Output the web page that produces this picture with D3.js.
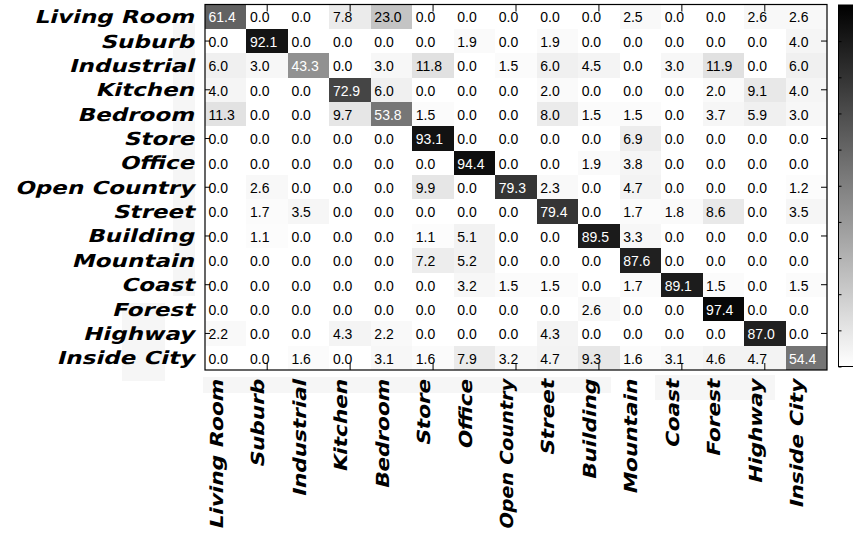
<!DOCTYPE html>
<html>
<head>
<meta charset="utf-8">
<script src="https://cdn.jsdelivr.net/npm/d3@7"></script>
<style>
  html, body { margin: 0; padding: 0; background: #fff; }
  svg { display: block; }
</style>
</head>
<body>
<svg id="chart" width="853" height="535"></svg>
<script>
// Scene categories (true class on rows, predicted class on columns)
const categories = ["Living Room", "Suburb", "Industrial", "Kitchen", "Bedroom", "Store", "Office",
  "Open Country", "Street", "Building", "Mountain", "Coast", "Forest", "Highway", "Inside City"];

// Confusion matrix rows, in percent
const livingRoom  = [61.4, 0.0, 0.0, 7.8, 23.0, 0.0, 0.0, 0.0, 0.0, 0.0, 2.5, 0.0, 0.0, 2.6, 2.6];
const suburb      = [0.0, 92.1, 0.0, 0.0, 0.0, 0.0, 1.9, 0.0, 1.9, 0.0, 0.0, 0.0, 0.0, 0.0, 4.0];
const industrial  = [6.0, 3.0, 43.3, 0.0, 3.0, 11.8, 0.0, 1.5, 6.0, 4.5, 0.0, 3.0, 11.9, 0.0, 6.0];
const kitchen     = [4.0, 0.0, 0.0, 72.9, 6.0, 0.0, 0.0, 0.0, 2.0, 0.0, 0.0, 0.0, 2.0, 9.1, 4.0];
const bedroom     = [11.3, 0.0, 0.0, 9.7, 53.8, 1.5, 0.0, 0.0, 8.0, 1.5, 1.5, 0.0, 3.7, 5.9, 3.0];
const store       = [0.0, 0.0, 0.0, 0.0, 0.0, 93.1, 0.0, 0.0, 0.0, 0.0, 6.9, 0.0, 0.0, 0.0, 0.0];
const office      = [0.0, 0.0, 0.0, 0.0, 0.0, 0.0, 94.4, 0.0, 0.0, 1.9, 3.8, 0.0, 0.0, 0.0, 0.0];
const openCountry = [0.0, 2.6, 0.0, 0.0, 0.0, 9.9, 0.0, 79.3, 2.3, 0.0, 4.7, 0.0, 0.0, 0.0, 1.2];
const street      = [0.0, 1.7, 3.5, 0.0, 0.0, 0.0, 0.0, 0.0, 79.4, 0.0, 1.7, 1.8, 8.6, 0.0, 3.5];
const building    = [0.0, 1.1, 0.0, 0.0, 0.0, 1.1, 5.1, 0.0, 0.0, 89.5, 3.3, 0.0, 0.0, 0.0, 0.0];
const mountain    = [0.0, 0.0, 0.0, 0.0, 0.0, 7.2, 5.2, 0.0, 0.0, 0.0, 87.6, 0.0, 0.0, 0.0, 0.0];
const coast       = [0.0, 0.0, 0.0, 0.0, 0.0, 0.0, 3.2, 1.5, 1.5, 0.0, 1.7, 89.1, 1.5, 0.0, 1.5];
const forest      = [0.0, 0.0, 0.0, 0.0, 0.0, 0.0, 0.0, 0.0, 0.0, 2.6, 0.0, 0.0, 97.4, 0.0, 0.0];
const highway     = [2.2, 0.0, 0.0, 4.3, 2.2, 0.0, 0.0, 0.0, 4.3, 0.0, 0.0, 0.0, 0.0, 87.0, 0.0];
const insideCity  = [0.0, 0.0, 1.6, 0.0, 3.1, 1.6, 7.9, 3.2, 4.7, 9.3, 1.6, 3.1, 4.6, 4.7, 54.4];

const matrixRows = [livingRoom, suburb, industrial, kitchen, bedroom, store, office, openCountry,
  street, building, mountain, coast, forest, highway, insideCity];

// Colour bar range and tick values
const colorDomain = [0, 100];
const colorTicks = [0, 10, 20, 30, 40, 50, 60, 70, 80, 90, 100];

const svg = d3.select("#chart");
const plot = { left: 205, right: 827, top: 4.5, bottom: 370 };

const x = d3.scaleBand().domain(categories).range([plot.left, plot.right]);
const y = d3.scaleBand().domain(categories).range([plot.top, plot.bottom]);
const shade = d3.scaleLinear().domain(colorDomain).range(["#ffffff", "#000000"]);

// light backing panels behind the label columns
const panels = [
  [173, 23, 22, 273], [122, 303, 43, 78], [203, 377, 408, 16], [655, 375, 120, 25]
];
svg.append("g").selectAll("rect").data(panels).join("rect")
  .attr("x", d => d[0]).attr("y", d => d[1]).attr("width", d => d[2]).attr("height", d => d[3])
  .attr("fill", "#f6f6f6");

// flatten into cells
const cells = [];
matrixRows.forEach((row, r) => row.forEach((v, c) => cells.push({ r: categories[r], c: categories[c], v })));

const g = svg.append("g");
g.selectAll("rect.cell").data(cells).join("rect")
  .attr("class", "cell")
  .attr("x", d => x(d.c)).attr("y", d => y(d.r))
  .attr("width", x.bandwidth()).attr("height", y.bandwidth())
  .attr("fill", d => shade(d.v))
  .attr("shape-rendering", "crispEdges");

g.selectAll("text.val").data(cells).join("text")
  .attr("class", "val")
  .attr("x", d => x(d.c) + 3.5)
  .attr("y", d => y(d.r) + y.bandwidth() / 2 + 5.8)
  .attr("font-family", "'Liberation Sans', Arial, sans-serif")
  .attr("font-size", "14px")
  .attr("fill", d => d.v > 40 ? "#ffffff" : "#000000")
  .text(d => d.v.toFixed(1));

// tick marks on every other category, drawn inward on all four sides
const tickCats = categories.filter((d, i) => i % 2 === 1);
const noLabel = () => "";
const axTop = svg.append("g").attr("transform", `translate(0,${plot.top})`)
  .call(d3.axisBottom(x).tickValues(tickCats).tickSize(7).tickSizeOuter(0).tickFormat(noLabel));
const axBottom = svg.append("g").attr("transform", `translate(0,${plot.bottom})`)
  .call(d3.axisTop(x).tickValues(tickCats).tickSize(7).tickSizeOuter(0).tickFormat(noLabel));
const axLeft = svg.append("g").attr("transform", `translate(${plot.left},0)`)
  .call(d3.axisRight(y).tickValues(tickCats).tickSize(5).tickSizeOuter(0).tickFormat(noLabel));
const axRight = svg.append("g").attr("transform", `translate(${plot.right},0)`)
  .call(d3.axisLeft(y).tickValues(tickCats).tickSize(6).tickSizeOuter(0).tickFormat(noLabel));
[axTop, axBottom, axLeft, axRight].forEach(a => {
  a.select(".domain").remove();
  a.selectAll("line").attr("stroke", "#000").attr("stroke-width", 1);
});

// frame
svg.append("rect")
  .attr("x", plot.left).attr("y", plot.top)
  .attr("width", plot.right - plot.left).attr("height", plot.bottom - plot.top)
  .attr("fill", "none").attr("stroke", "#000").attr("stroke-width", 1.2);

// category labels: bold DejaVu Sans, widened and slanted
const labelFont = "DejaVu Sans";
const slant = "skewX(-12)";

svg.append("g").selectAll("text").data(categories).join("text")
  .attr("transform", d => `translate(194,${y(d) + y.bandwidth() / 2 + 6.5}) scale(1.28,1) ${slant}`)
  .attr("text-anchor", "end")
  .attr("font-family", labelFont).attr("font-weight", "bold")
  .attr("font-size", "18px")
  .text(d => d);

// column labels hang below the matrix; long ones are squeezed to fit the space left
const colLabelTop = 380, colLabelRoom = 150;
svg.append("g").selectAll("text").data(categories).join("text")
  .attr("text-anchor", "end")
  .attr("font-family", labelFont).attr("font-weight", "bold")
  .attr("font-size", "18px")
  .text(d => d)
  .attr("transform", function (d) {
    const natural = this.getComputedTextLength();
    const stretch = Math.min(1.2, colLabelRoom / natural);
    return `translate(${x(d) + x.bandwidth() / 2 - 3},${colLabelTop}) rotate(-90) scale(${stretch},1) ${slant}`;
  });

// colour bar
const cb = { x: 838.5, top: 5, bottom: 366.5, width: 24 };
const cy = d3.scaleLinear().domain(colorDomain).range([cb.bottom, cb.top]);
const grad = svg.append("defs").append("linearGradient").attr("id", "cbGrad")
  .attr("x1", 0).attr("x2", 0).attr("y1", 1).attr("y2", 0);
d3.range(0, 101, 10).forEach(v => {
  grad.append("stop").attr("offset", `${v}%`).attr("stop-color", shade(v));
});
svg.append("rect")
  .attr("x", cb.x).attr("y", cb.top).attr("width", cb.width).attr("height", cb.bottom - cb.top)
  .attr("fill", "url(#cbGrad)").attr("stroke", "#000").attr("stroke-width", 1);
const cbAxis = svg.append("g").attr("transform", `translate(${cb.x},0)`)
  .call(d3.axisRight(cy).tickValues(colorTicks).tickSize(3).tickSizeOuter(0).tickFormat(noLabel));
cbAxis.select(".domain").remove();
cbAxis.selectAll("line").attr("stroke", "#000");
</script>
</body>
</html>
